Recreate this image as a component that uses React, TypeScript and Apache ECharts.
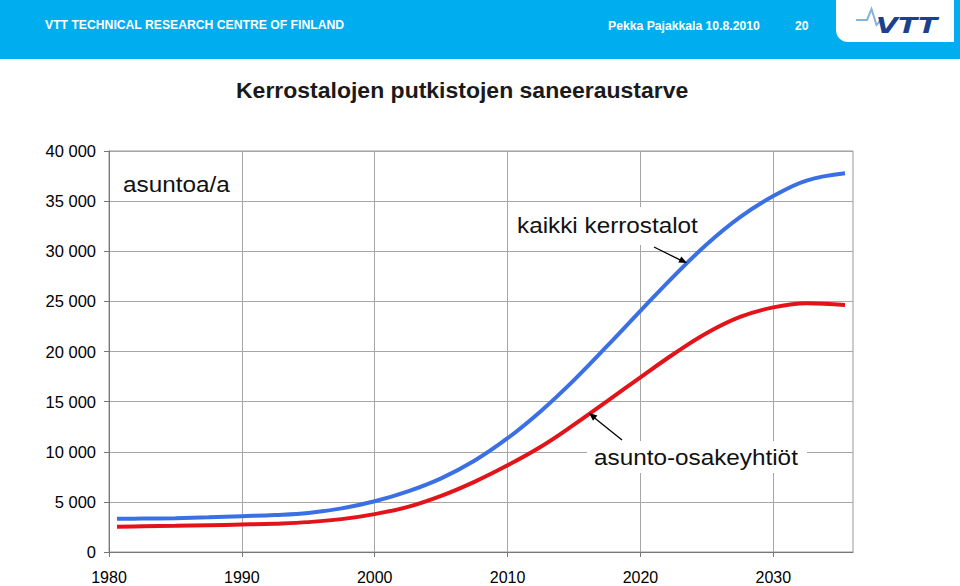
import React, { useEffect, useRef } from "react";
import * as echarts from "echarts";

const years = [1980.6, 1982.5, 1985, 1987.5, 1990, 1992.5, 1995, 1997.5, 2000, 2002.5, 2005, 2007.5, 2010, 2012.5, 2015, 2017.5, 2020, 2022.5, 2025, 2027.5, 2030, 2032.5, 2035.4];
const kaikkiKerrostalot = [3310, 3330, 3370, 3460, 3570, 3690, 3900, 4350, 5060, 6050, 7350, 9100, 11350, 14050, 17150, 20550, 24050, 27500, 30700, 33400, 35500, 37050, 37780];
const asuntoOsakeyhtiot = [2510, 2560, 2610, 2670, 2740, 2830, 2980, 3280, 3780, 4500, 5600, 7000, 8650, 10500, 12700, 15050, 17420, 19750, 21850, 23450, 24400, 24820, 24650];
const xTickYears = [1980, 1990, 2000, 2010, 2020, 2030];

const titleText = "Kerrostalojen putkistojen saneeraustarve";
const unitText = "asuntoa/a";
const seriesNames = ["kaikki kerrostalot", "asunto-osakeyhtiöt"];
const headerLeft = "VTT TECHNICAL RESEARCH CENTRE OF FINLAND";
const headerAuthor = "Pekka Pajakkala 10.8.2010";
const headerPage = "20";

const FONT = "'Liberation Sans', Arial, Helvetica, sans-serif";

const fmt = (v: number) => String(v).replace(/\B(?=(\d{3})+(?!\d))/g, " ");

export default function App() {
  const ref = useRef<HTMLDivElement>(null);
  useEffect(() => {
    if (!ref.current) return;
    const chart = echarts.init(ref.current, null, { renderer: "svg" });
    const blueData = years.map((y, i) => [y, kaikkiKerrostalot[i]]);
    const redData = years.map((y, i) => [y, asuntoOsakeyhtiot[i]]);
    chart.setOption({
      animation: false,
      backgroundColor: "#ffffff",
      textStyle: { fontFamily: FONT },
      grid: {
        left: 109,
        right: 107,
        top: 151,
        bottom: 34,
        show: true,
        borderColor: "#999",
        borderWidth: 1,
        backgroundColor: "transparent",
      },
      xAxis: {
        type: "value",
        min: 1980,
        max: 2036,
        interval: 10,
        axisLine: { show: true, lineStyle: { color: "#777", width: 1 } },
        axisTick: { show: true, length: 5, inside: false, lineStyle: { color: "#777" }, customValues: xTickYears },
        axisLabel: {
          color: "#000",
          fontSize: 16,
          fontFamily: FONT,
          margin: 17,
          customValues: xTickYears,
          formatter: (v: number) => String(v),
        },
        splitLine: { show: true, lineStyle: { color: "#a6a6a6", width: 1 } },
      },
      yAxis: {
        type: "value",
        min: 0,
        max: 40000,
        interval: 5000,
        axisLine: { show: true, lineStyle: { color: "#777", width: 1 } },
        axisTick: { show: true, length: 5, inside: false, lineStyle: { color: "#777" } },
        axisLabel: { color: "#000", fontSize: 16.5, fontFamily: FONT, margin: 13, formatter: (v: number) => fmt(v) },
        splitLine: { show: true, lineStyle: { color: "#a6a6a6", width: 1 } },
      },
      series: [
        {
          name: seriesNames[0],
          type: "line",
          data: blueData,
          smooth: 0.4,
          showSymbol: false,
          symbol: "none",
          lineStyle: { color: "#3b6fe4", width: 4 },
          z: 5,
        },
        {
          name: seriesNames[1],
          type: "line",
          data: redData,
          smooth: 0.4,
          showSymbol: false,
          symbol: "none",
          lineStyle: { color: "#e2141a", width: 4 },
          z: 5,
        },
      ],
      graphic: [
        { type: "rect", z: 1, shape: { x: 0, y: 0, width: 960, height: 59 }, style: { fill: "#00aeef" } },
        { type: "rect", z: 2, shape: { x: 836, y: 0, width: 118, height: 42, r: [0, 0, 0, 12] }, style: { fill: "#ffffff" } },
        {
          type: "text", z: 3, x: 45, y: 25,
          style: { text: headerLeft, fill: "#ffffff", font: `bold 12.2px ${FONT}`, textAlign: "left", textVerticalAlign: "middle" },
        },
        {
          type: "text", z: 3, x: 608, y: 25.5,
          style: { text: headerAuthor, fill: "#ffffff", font: `bold 12.2px ${FONT}`, textAlign: "left", textVerticalAlign: "middle" },
        },
        {
          type: "text", z: 3, x: 795, y: 25.5,
          style: { text: headerPage, fill: "#ffffff", font: `bold 12.2px ${FONT}`, textAlign: "left", textVerticalAlign: "middle" },
        },
        {
          type: "polyline", z: 4,
          shape: { points: [[856, 20], [867, 20], [871.5, 9], [876.5, 25], [881, 20]] },
          style: { stroke: "#86b3d9", lineWidth: 2, fill: "none" },
        },
        {
          type: "text", z: 4, x: 876, y: 26, scaleX: 1.42, scaleY: 1.05,
          style: { text: "VTT", fill: "#1c3f8f", font: `italic 900 20px 'DejaVu Sans', sans-serif`, textAlign: "left", textVerticalAlign: "middle" },
        },
        {
          type: "text", z: 6, x: 236, y: 91, scaleX: 1.07,
          style: { text: titleText, fill: "#1a1a1a", font: `bold 21.5px ${FONT}`, textAlign: "left", textVerticalAlign: "middle" },
        },
        {
          type: "text", z: 6, x: 123, y: 184.5, scaleX: 1.08,
          style: { text: unitText, fill: "#111", font: `22.5px ${FONT}`, textAlign: "left", textVerticalAlign: "middle" },
        },
        { type: "rect", z: 1, shape: { x: 510, y: 207, width: 195, height: 38 }, style: { fill: "#ffffff" } },
        {
          type: "text", z: 6, x: 517, y: 225.5, scaleX: 1.08,
          style: { text: seriesNames[0], fill: "#111", font: `22.5px ${FONT}`, textAlign: "left", textVerticalAlign: "middle" },
        },
        { type: "rect", z: 1, shape: { x: 587, y: 441, width: 220, height: 32 }, style: { fill: "#ffffff" } },
        {
          type: "text", z: 6, x: 594, y: 457.5, scaleX: 1.08,
          style: { text: seriesNames[1], fill: "#111", font: `22.5px ${FONT}`, textAlign: "left", textVerticalAlign: "middle" },
        },
        { type: "line", z: 7, shape: { x1: 654, y1: 247, x2: 681, y2: 260.4 }, style: { stroke: "#000", lineWidth: 1.3 } },
        { type: "polygon", z: 7, shape: { points: [[687, 263], [678.3, 262.6], [681.3, 256.4]] }, style: { fill: "#000" } },
        { type: "line", z: 7, shape: { x1: 622, y1: 440, x2: 594, y2: 417.5 }, style: { stroke: "#000", lineWidth: 1.3 } },
        { type: "polygon", z: 7, shape: { points: [[589, 413], [597.4, 415.4], [593, 420.8]] }, style: { fill: "#000" } },
      ],
    });
    return () => chart.dispose();
  }, []);
  return <div ref={ref} style={{ position: "absolute", left: 0, top: 0, width: 960, height: 586 }} />;
}
